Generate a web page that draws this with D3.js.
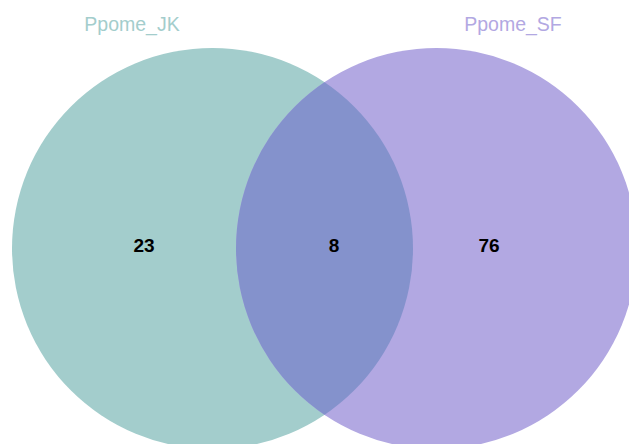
<!DOCTYPE html>
<html>
<head>
<meta charset="utf-8">
<script src="https://cdn.jsdelivr.net/npm/d3@7"></script>
<style>
  html, body { margin: 0; padding: 0; background: #fff; }
  svg { display: block; }
</style>
</head>
<body>
<svg id="chart" width="629" height="444"></svg>
<script>
// Data
const setNames = ["Ppome_JK", "Ppome_SF"];
const setColors = ["#a3cdcc", "#b2a8e2"];
const overlapColor = "#8492cc";
const regionLabels = ["Ppome_JK only", "Ppome_JK ∩ Ppome_SF", "Ppome_SF only"];
const regionValues = [23, 8, 76];

const W = 629, H = 444;
const svg = d3.select("#chart");

// Layout in unit coordinates, mapped through scales
const x = d3.scaleLinear().domain([0, 1]).range([12, 637]);
const y = d3.scaleLinear().domain([0, 1]).range([48, 449]);
const rScale = d3.scaleLinear().domain([0, 1]).range([0, 401]);

const circleUnits = [{cx: 0.3208, cy: 0.5, r: 0.5}, {cx: 0.6792, cy: 0.5, r: 0.5}];
const circles = circleUnits.map((c, i) => ({
  name: setNames[i], color: setColors[i],
  cx: x(c.cx), cy: y(c.cy), r: rScale(c.r)
}));

const defs = svg.append("defs");
defs.append("clipPath").attr("id", "clipLeft")
  .append("circle").attr("cx", circles[0].cx).attr("cy", circles[0].cy).attr("r", circles[0].r);

svg.selectAll("circle.set").data(circles).join("circle")
  .attr("class", "set")
  .attr("cx", d => d.cx).attr("cy", d => d.cy).attr("r", d => d.r)
  .attr("fill", d => d.color);

svg.append("circle")
  .attr("clip-path", "url(#clipLeft)")
  .attr("cx", circles[1].cx).attr("cy", circles[1].cy).attr("r", circles[1].r)
  .attr("fill", overlapColor);

// Set labels
const labelX = d3.scaleOrdinal().domain(setNames).range([132, 513]);
svg.selectAll("text.setname").data(circles).join("text")
  .attr("class", "setname")
  .attr("x", d => labelX(d.name)).attr("y", 31)
  .attr("text-anchor", "middle")
  .attr("font-family", "Liberation Sans, Arial, sans-serif")
  .attr("font-size", 19.5)
  .attr("fill", d => d.color)
  .text(d => d.name);

// Region counts
const regionX = d3.scaleOrdinal().domain(regionLabels).range([144, 334, 489]);
svg.selectAll("text.count").data(regionValues).join("text")
  .attr("class", "count")
  .attr("x", (d, i) => regionX(regionLabels[i])).attr("y", 252)
  .attr("text-anchor", "middle")
  .attr("font-family", "Liberation Sans, Arial, sans-serif")
  .attr("font-weight", "bold")
  .attr("font-size", 19)
  .attr("fill", "#000")
  .text(d => d);
</script>
</body>
</html>
